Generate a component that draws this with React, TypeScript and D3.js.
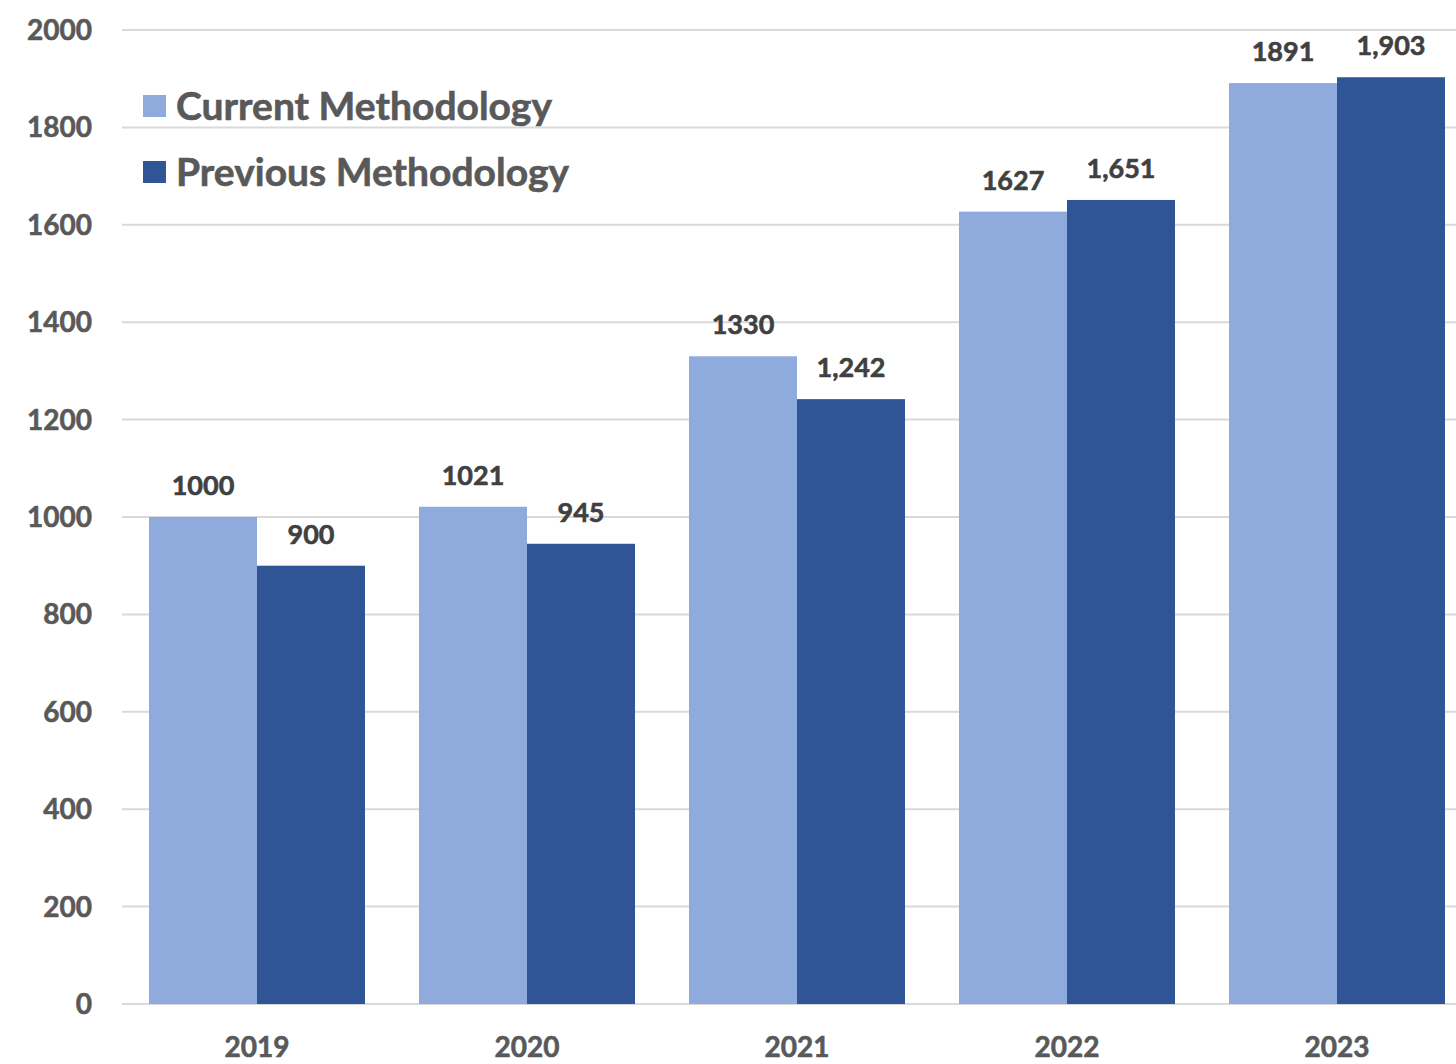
import React from "react";
import * as d3 from "d3";

const years = ["2019", "2020", "2021", "2022", "2023"];
const currentValues = [1000, 1021, 1330, 1627, 1891];
const previousValues = [900, 945, 1242, 1651, 1903];
const seriesNames = ["Current Methodology", "Previous Methodology"];
const yTicks = [0, 200, 400, 600, 800, 1000, 1200, 1400, 1600, 1800, 2000];

const W = 1456;
const H = 1064;
const left = 122;
const top = 30;
const bottom = 1004;
const colors = ["#8FAADC", "#2F5597"];
const font = "Lato, 'Open Sans', sans-serif";

export default function App() {
  const x = d3
    .scaleBand<string>()
    .domain(years)
    .range([left, left + 270 * 5])
    .paddingInner(0.2)
    .paddingOuter(0.1);
  const inner = d3
    .scaleBand<string>()
    .domain(seriesNames)
    .range([0, x.bandwidth()]);
  const y = d3.scaleLinear().domain([0, 2000]).range([bottom, top]);
  const commaFmt = d3.format(",");

  const series = [
    { name: seriesNames[0], values: currentValues, fmt: (v: number) => String(v) },
    { name: seriesNames[1], values: previousValues, fmt: (v: number) => commaFmt(v) },
  ];

  // slight outline to give the bold text a heavier look
  const heavy = (c: string) => ({ fill: c, stroke: c, strokeWidth: 0.6 });

  return (
    <svg
      width={W}
      height={H}
      style={{ position: "absolute", left: 0, top: 0, background: "#fff" }}
      fontFamily={font}
    >
      {yTicks.map((t) => (
        <g key={t}>
          <line x1={left} x2={W} y1={y(t)} y2={y(t)} stroke="#D9D9D9" strokeWidth={2} />
          <text
            x={92}
            y={y(t)}
            dy="0.36em"
            textAnchor="end"
            fontSize={28}
            fontWeight={700}
            {...heavy("#595959")}
          >
            {t}
          </text>
        </g>
      ))}

      {series.map((s, si) =>
        s.values.map((v, i) => {
          const bx = (x(years[i]) as number) + (inner(s.name) as number);
          const bw = inner.bandwidth();
          return (
            <g key={s.name + i}>
              <rect x={bx} y={y(v)} width={bw} height={y(0) - y(v)} fill={colors[si]} />
              <text
                x={bx + bw / 2}
                y={y(v) - 22}
                textAnchor="middle"
                fontSize={27}
                fontWeight={700}
                {...heavy("#404040")}
              >
                {s.fmt(v)}
              </text>
            </g>
          );
        })
      )}

      {years.map((yr) => (
        <text
          key={yr}
          x={(x(yr) as number) + x.bandwidth() / 2}
          y={1057}
          textAnchor="middle"
          fontSize={28}
          fontWeight={700}
          {...heavy("#595959")}
        >
          {yr}
        </text>
      ))}

      {seriesNames.map((n, i) => (
        <g key={n} transform={`translate(143, ${95 + i * 66})`}>
          <rect x={0} y={0} width={23} height={22} fill={colors[i]} />
          <text x={33} y={11} dy="0.36em" fontSize={39} fontWeight={700} {...heavy("#595959")}>
            {n}
          </text>
        </g>
      ))}
    </svg>
  );
}
